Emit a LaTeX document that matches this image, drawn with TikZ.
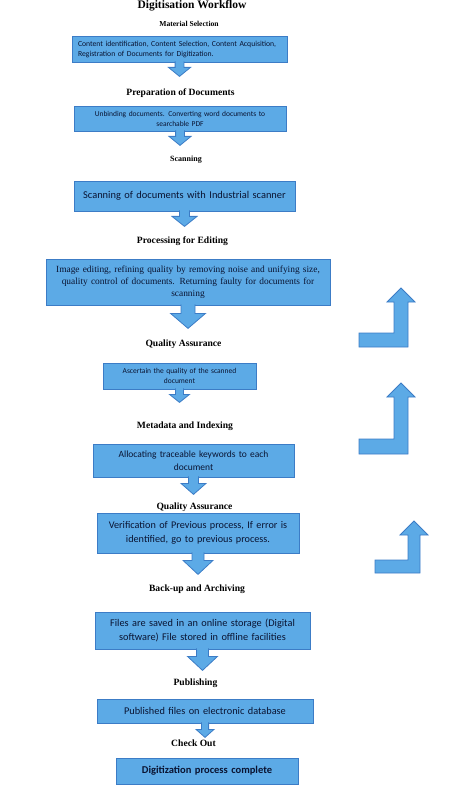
\documentclass[tikz,border=0pt]{standalone}
\usepackage{fontspec}
\setmainfont{Liberation Serif}
\newfontfamily\boxfont{Carlito}
\usetikzlibrary{positioning}
\definecolor{boxfill}{RGB}{92,170,230}
\definecolor{boxline}{RGB}{60,124,198}
\definecolor{boxtext}{RGB}{10,20,50}
\tikzset{
	stage/.style={font=\bfseries\fontsize{9.6}{11}\selectfont, inner sep=0pt},
	taskbox/.style={draw=boxline, fill=boxfill, line width=0.8pt, text=boxtext, align=center, inner sep=1pt},
	blockarrow/.style={draw=boxline, fill=boxfill, line width=0.8pt, line join=miter},
}
\newcommand{\flowarrow}[4]{%
	\draw[blockarrow] ([shift={(-0.4*#4,-1)}]#1.south) -- ++(0,#2+1) -- ++(-0.6*#4,0) -- ++(#4,#3) -- ++(#4,-#3) -- ++(-0.6*#4,0) -- ++(0,-#2-1);
}

\begin{document}
\begin{tikzpicture}[x=1pt,y=-1pt]
		\useasboundingbox (0,0) rectangle (474,786);
		\node[stage, font=\bfseries\fontsize{11.5}{13}\selectfont] (title) at (192,6) {Digitisation Workflow};
		\node[stage, font=\bfseries\fontsize{7.6}{9}\selectfont] (l1) at (189,24) {Material Selection};
		\node[taskbox, minimum width=215pt, minimum height=26pt, text width=203pt, align=left, font=\boxfont\fontsize{7.7}{10}\selectfont] (b1) at (179.5,49) {Content identification, Content Selection, Content Acquisition,\\Registration of Documents for  Digitization.};
		\node[stage] (l2) at (180.5,93) {Preparation of Documents};
		\node[taskbox, minimum width=212pt, minimum height=25pt, text width=206pt, font=\boxfont\fontsize{7.5}{10}\selectfont] (b2) at (180,118.5) {Unbinding documents. Converting word documents to\\searchable PDF};
		\node[stage, font=\bfseries\fontsize{8}{9}\selectfont] (l3) at (186,160) {Scanning};
		\node[taskbox, minimum width=221pt, minimum height=30pt, text width=215pt, font=\boxfont\fontsize{10.4}{12}\selectfont] (b3) at (184.5,196) {Scanning of documents with Industrial scanner};
		\node[stage] (l4) at (182.5,241) {Processing for Editing};
		\node[taskbox, minimum width=284pt, minimum height=46pt, text width=280pt, font=\fontsize{9.4}{12}\selectfont] (b4) at (188,282) {Image editing, refining quality by removing noise and unifying size,\\quality control of documents. Returning faulty for documents for\\scanning};
		\node[stage] (l5) at (183.5,344) {Quality Assurance};
		\node[taskbox, minimum width=153pt, minimum height=26pt, text width=149pt, font=\boxfont\fontsize{7.5}{10}\selectfont] (b5) at (179.5,376) {Ascertain the quality of the scanned\\document};
		\node[stage] (l6) at (185,426) {Metadata and Indexing};
		\node[taskbox, minimum width=201pt, minimum height=33pt, text width=197pt, font=\boxfont\fontsize{9.5}{13}\selectfont] (b6) at (193.5,460.5) {Allocating traceable keywords to each\\document};
		\node[stage] (l7) at (194.5,507) {Quality Assurance};
		\node[taskbox, minimum width=202pt, minimum height=40pt, text width=198pt, font=\boxfont\fontsize{10.2}{14}\selectfont] (b7) at (198,533) {Verification of Previous process, If error is\\identified, go to previous process.};
		\node[stage] (l8) at (197,589) {Back-up and Archiving};
		\node[taskbox, minimum width=215pt, minimum height=37pt, text width=211pt, font=\boxfont\fontsize{10.3}{13.5}\selectfont] (b8) at (202.5,630.5) {Files are saved in an online storage (Digital\\software) File stored in offline facilities};
		\node[stage] (l9) at (195.5,683) {Publishing};
		\node[taskbox, minimum width=216pt, minimum height=24pt, text width=212pt, font=\boxfont\fontsize{10.3}{12}\selectfont] (b9) at (205,711) {Published files on electronic database};
		\node[stage] (l10) at (193.5,743) {Check Out};
		\node[taskbox, minimum width=182pt, minimum height=26pt, text width=178pt, font=\boxfont\bfseries\fontsize{10.5}{12}\selectfont] (b10) at (207,771) {Digitization process complete};
		\flowarrow{b1}{5}{9}{11}
		\flowarrow{b2}{5}{9}{11}
		\flowarrow{b3}{5}{10}{12.5}
		\flowarrow{b4}{8}{15}{17.5}
		\flowarrow{b5}{5}{8}{10}
		\flowarrow{b6}{6}{11}{12.5}
		\flowarrow{b7}{7}{14}{15}
		\flowarrow{b8}{7}{14}{15}
		\flowarrow{b9}{6}{8}{9}
		\draw[blockarrow] (359,333) -- (394,333) -- (394,302) -- (387,302) -- (401,288) -- (415,302) -- (408,302) -- (408,347) -- (359,347) -- cycle;
		\draw[blockarrow] (359,439) -- (394,439) -- (394,397) -- (387,397) -- (401,383) -- (415,397) -- (408,397) -- (408,454) -- (359,454) -- cycle;
		\draw[blockarrow] (375,560) -- (408,560) -- (408,535) -- (400,535) -- (414,521) -- (428,535) -- (420,535) -- (420,573) -- (375,573) -- cycle;
	\end{tikzpicture}
\end{document}
